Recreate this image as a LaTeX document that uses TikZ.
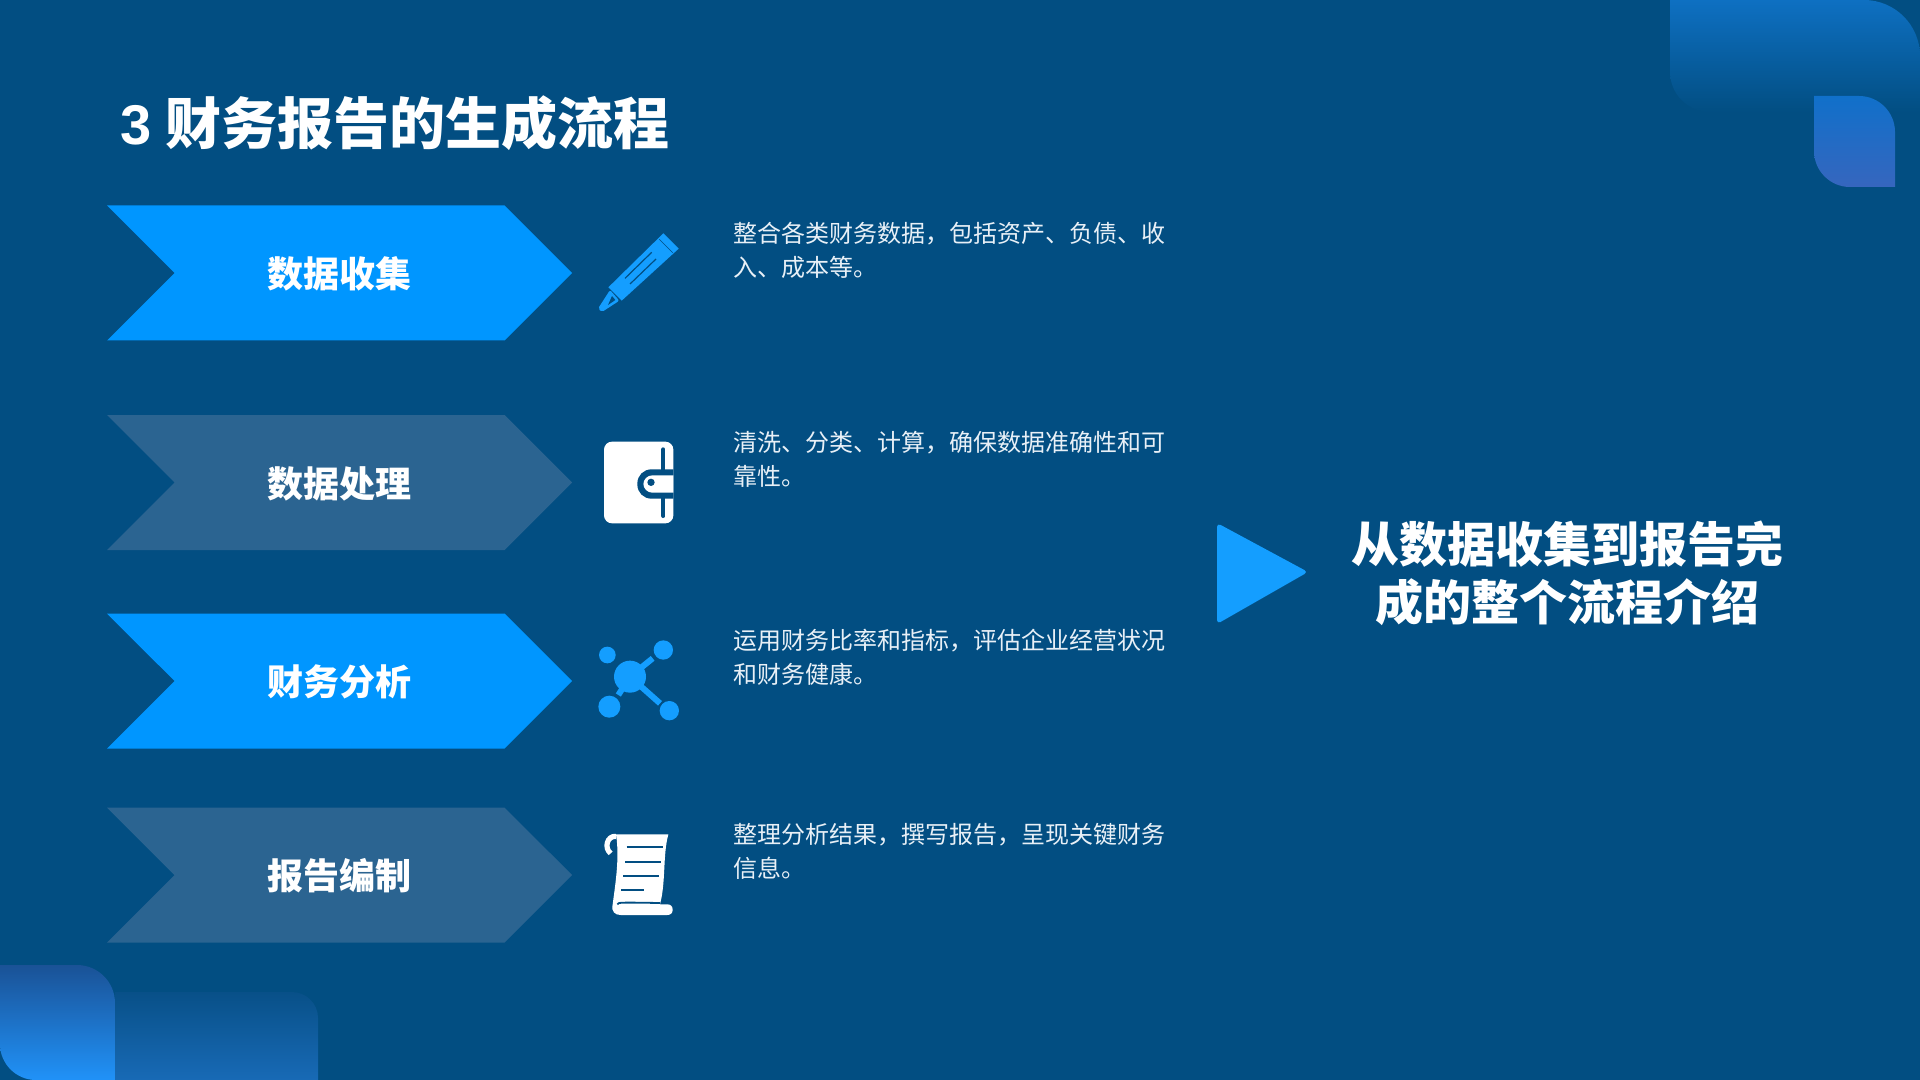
\documentclass[tikz,border=0pt]{standalone}
\usepackage{fontspec}
\usepackage{xcolor}
\usepackage{tikz}
\usetikzlibrary{shapes.symbols}
\setmainfont{Noto Sans CJK SC}
\newfontfamily\digitfont{Liberation Sans}
\definecolor{slidebg}{RGB}{2,78,130}
\definecolor{brightblue}{RGB}{0,150,255}
\definecolor{dimblue}{RGB}{43,100,145}
\definecolor{iconblue}{RGB}{20,158,255}
\definecolor{desctext}{RGB}{232,240,247}
\tikzstyle{chevron} = [signal, signal to=east, signal from=west, signal pointer angle=90, minimum width=232.5pt, minimum height=67.5pt, inner sep=0pt, outer sep=0pt, text=white, text depth=0.6pt, font=\fontsize{18}{22}\selectfont\bfseries]
\tikzstyle{chevronlit} = [chevron, fill=brightblue]
\tikzstyle{chevrondim} = [chevron, fill=dimblue]
\tikzstyle{desc} = [anchor=west, inner sep=0pt, align=left, text=desctext, font=\fontsize{12}{17}\selectfont]
\tikzstyle{iconscope} = [x=0.16667pt, y=-0.16667pt]
\begin{document}
\begin{tikzpicture}[x=0.5pt, y=-0.5pt]
\useasboundingbox (0,0) rectangle (1920,1080);
\fill[slidebg] (0,0) rectangle (1920,1080);

% top right corner
\shade[top color={rgb,255:red,14;green,112;blue,194}, bottom color=slidebg] (1670,0) [rounded corners=28pt] -- (1920,0) [sharp corners] -- (1920,112) -- (1700,112) [rounded corners=20pt] -- (1670,112) [sharp corners] -- cycle;
\shade[top color={rgb,255:red,16;green,112;blue,202}, bottom color={rgb,255:red,54;green,102;blue,190}] (1814,96) [rounded corners=18pt] -- (1895,96) [sharp corners] -- (1895,187) [rounded corners=18pt] -- (1814,187) [sharp corners] -- cycle;

% bottom left corner
\shade[shading angle=45, top color={rgb,255:red,26;green,82;blue,150}, bottom color={rgb,255:red,32;green,146;blue,248}] (0,965) [rounded corners=19pt] -- (115,965) [sharp corners] -- (115,1080) [rounded corners=18pt] -- (0,1080) [sharp corners] -- cycle;
\shade[shading angle=60, top color={rgb,255:red,8;green,80;blue,136}, bottom color={rgb,255:red,24;green,106;blue,182}] (115,992) [rounded corners=13pt] -- (318,992) [sharp corners] -- (318,1080) -- (115,1080) -- cycle;

% title
\node[anchor=west, inner sep=0pt, text=white, font=\fontsize{28}{34}\selectfont\bfseries] (title) at (118,123) {\hspace{1pt}{\digitfont 3}\hspace{6.8pt}财务报告的生成流程};

% chevrons
\node[chevronlit] (collect) at (339.5,273) {数据收集};
\node[chevrondim] (process) at (339.5,482.5) {数据处理};
\node[chevronlit] (analyse) at (339.5,681) {财务分析};
\node[chevrondim] (compile) at (339.5,875) {报告编制};

% pencil icon
\begin{scope}[shift={(580,210)}, iconscope]
\fill[iconblue] (85,232) -- (250,70) -- (296,116) -- (125,272) -- cycle;
\fill[iconblue, rounded corners=1pt] (90,240) -- (118,272) -- (66,306) -- (54,296) -- cycle;
\fill[slidebg] (96,258) -- (106,270) -- (84,285) -- cycle;
\draw[slidebg, line width=0.6pt] (135,205) -- (215,127);
\draw[slidebg, line width=0.6pt] (150,222) -- (228,147);
\draw[slidebg, line width=0.3pt] (238,88) -- (278,128);
\end{scope}

% wallet icon
\begin{scope}[shift={(580,420)}, iconscope]
\fill[white, rounded corners=4pt] (72,65) rectangle (280,310);
\draw[slidebg, line width=2pt, line cap=round] (250,88) -- (250,150);
\draw[slidebg, line width=2pt, line cap=round] (250,235) -- (250,288);
\fill[slidebg] (280,148) [rounded corners=7pt] -- (172,148) -- (172,236) [sharp corners] -- (280,236) -- cycle;
\fill[white] (280,166) [rounded corners=4.5pt] -- (190,166) -- (190,218) [sharp corners] -- (280,218) -- cycle;
\fill[slidebg] (213,187) circle[radius=11];
\end{scope}

% network icon
\begin{scope}[shift={(580,620)}, iconscope]
\fill[iconblue] (150,170) circle[radius=48];
\fill[iconblue] (82,105) circle[radius=25];
\fill[iconblue] (250,90) circle[radius=29];
\fill[iconblue] (88,260) circle[radius=33];
\fill[iconblue] (268,272) circle[radius=29];
\draw[iconblue, line width=3pt] (150,170) -- (218,115);
\draw[iconblue, line width=3pt] (150,170) -- (240,250);
\draw[iconblue, line width=3pt] (150,170) -- (115,225);
\end{scope}

% scroll icon
\begin{scope}[shift={(580,815)}, iconscope]
\fill[white] (108,58) -- (265,58) .. controls (248,120) and (258,200) .. (240,268) -- (262,268) .. controls (272,268) and (278,274) .. (278,284) .. controls (278,294) and (272,300) .. (262,300) -- (122,300) .. controls (105,300) and (93,290) .. (98,268) .. controls (104,220) and (120,130) .. (108,58) -- cycle;
\draw[white, line width=2.6pt] (108,64) .. controls (80,62) and (72,100) .. (92,115);
\draw[slidebg, line width=0.9pt] (112,268) .. controls (115,262) and (118,262) .. (240,264);
\draw[slidebg, line width=1pt] (140,97) -- (248,97);
\draw[slidebg, line width=1pt] (135,140) -- (243,140);
\draw[slidebg, line width=1pt] (130,182) -- (237,182);
\draw[slidebg, line width=1pt] (123,225) -- (192,225);
\end{scope}

% descriptions
\node[desc] (collecttext) at (733,250) {整合各类财务数据，包括资产、负债、收\\入、成本等。};
\node[desc] (processtext) at (733,459) {清洗、分类、计算，确保数据准确性和可\\靠性。};
\node[desc] (analysetext) at (733,657) {运用财务比率和指标，评估企业经营状况\\和财务健康。};
\node[desc] (compiletext) at (733,851) {整理分析结果，撰写报告，呈现关键财务\\信息。};

% summary on the right
\fill[iconblue, rounded corners=2pt] (1217,523) -- (1308,572) -- (1217,624) -- cycle;
\node[align=center, inner sep=0pt, text=white, font=\fontsize{24}{28.7}\selectfont\bfseries] (summary) at (1567,573.5) {从数据收集到报告完\\成的整个流程介绍};
\end{tikzpicture}
\end{document}
